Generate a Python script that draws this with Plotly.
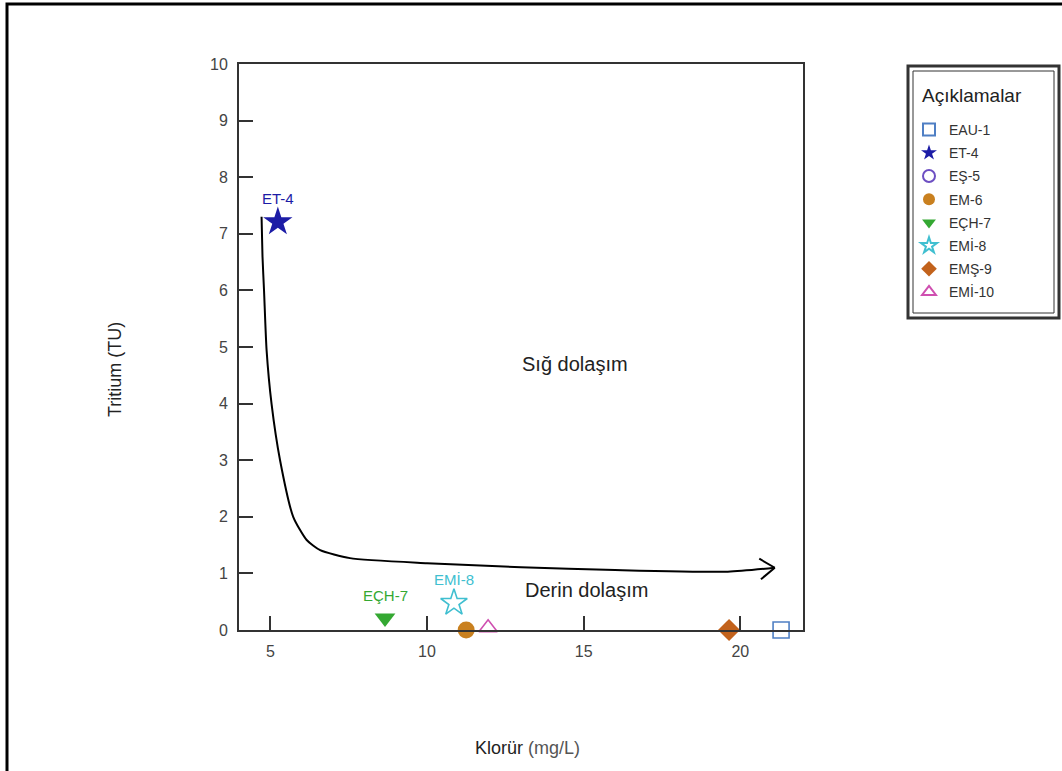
import math
import plotly.graph_objects as go

# Sample points: chloride (mg/L) vs tritium (TU)
names = ["EAU-1", "ET-4", "EŞ-5", "EM-6", "EÇH-7", "EMİ-8", "EMŞ-9", "EMİ-10"]
chloride = [21.3, 5.24, None, 11.25, 8.66, 10.86, 19.64, 11.95]
tritium = [0.0, 7.21, None, 0.0, 0.21, 0.48, 0.0, 0.04]
symbols = ["square-open", "star", "circle-open", "circle", "triangle-down",
           "star-open", "diamond", "triangle-up-open"]
colors = ["#4f7fc4", "#1c1ca6", "#6d4fc2", "#c9801f", "#34a832",
          "#40bfd0", "#c2621c", "#cf4fb0"]
sizes = [16, 22, 12, 17, 18, 20, 17, 16]

# Samples that carry a label above the marker
labelled = ["ET-4", "EÇH-7", "EMİ-8"]

# Hand-drawn flow curve (shallow -> deep circulation)
curve_x = [4.72, 4.75, 4.80, 4.88, 5.04, 5.31, 5.73, 6.16, 6.59, 7.54, 10.0, 13.0, 16.0, 19.6, 21.1]
curve_y = [7.30, 6.60, 5.98, 4.95, 3.99, 3.00, 2.00, 1.59, 1.41, 1.27, 1.18, 1.11, 1.06, 1.03, 1.10]

x_range = [4, 22]
y_range = [0, 10]
x_ticks = [5, 10, 15, 20]
y_ticks = list(range(0, 11))

FONT = "Liberation Sans, Arial, sans-serif"
W, H = 1062, 771
M_L, M_R, M_T, M_B = 239, 259, 64, 141
plot_w = W - M_L - M_R
plot_h = H - M_T - M_B
px_x = plot_w / (x_range[1] - x_range[0])
px_y = plot_h / (y_range[1] - y_range[0])


def paper_x(px):
    return (px - M_L) / plot_w


def paper_y(py):
    return (H - M_B - py) / plot_h


fig = go.Figure()

# Flow curve
fig.add_trace(go.Scatter(
    x=curve_x, y=curve_y, mode="lines",
    line=dict(color="black", width=2, shape="spline", smoothing=0.6),
    showlegend=False, hoverinfo="skip",
))

# Open arrowhead at the end of the curve, built in pixel space
tx, ty = curve_x[-1], curve_y[-1]
sx, sy = curve_x[-2], curve_y[-2]
ang = math.atan2((ty - sy) * px_y, (tx - sx) * px_x)
head_len, head_ang = 18, math.radians(35)
ah_x, ah_y = [], []
for s in (1, -1):
    a = ang + math.pi + s * head_ang
    ah_x += [tx + head_len * math.cos(a) / px_x, tx, None]
    ah_y += [ty + head_len * math.sin(a) / px_y, ty, None]
fig.add_trace(go.Scatter(
    x=ah_x, y=ah_y, mode="lines",
    line=dict(color="black", width=2),
    showlegend=False, hoverinfo="skip",
))

for n, cx, ty_, sym, col, sz in zip(names, chloride, tritium, symbols, colors, sizes):
    fig.add_trace(go.Scatter(
        x=[cx], y=[ty_], mode="markers", name=n, legendgroup=n,
        marker=dict(symbol=sym, color=col, size=sz,
                    line=dict(color=col, width=1.6 if "open" in sym else 0)),
        cliponaxis=False,
    ))
    if n in labelled:
        fig.add_annotation(x=cx, y=ty_, text=n, showarrow=False, yshift=23,
                           font=dict(family=FONT, size=15, color=col))

# Region labels
fig.add_annotation(x=14.72, y=4.7, text="Sığ dolaşım", showarrow=False,
                   font=dict(family=FONT, size=20, color="#222"))
fig.add_annotation(x=15.08, y=0.71, text="Derin dolaşım", showarrow=False,
                   font=dict(family=FONT, size=20, color="#222"))

# Axis titles
fig.add_annotation(xref="paper", yref="paper", x=paper_x(527), y=paper_y(748),
                   text="Klorür <span style='color:#555'>(mg/L)</span>",
                   showarrow=False, xanchor="center", yanchor="middle",
                   font=dict(family=FONT, size=18, color="#222"))
fig.add_annotation(xref="paper", yref="paper", x=paper_x(115), y=paper_y(370),
                   text="Tritium (TU)", textangle=-90, showarrow=False,
                   xanchor="center", yanchor="middle",
                   font=dict(family=FONT, size=18, color="#222"))

# Legend heading
fig.add_annotation(xref="paper", yref="paper", x=paper_x(920), y=paper_y(96),
                   text="Açıklamalar", showarrow=False,
                   xanchor="left", yanchor="middle",
                   font=dict(family=FONT, size=19, color="#222"))

# Page frame and double legend border
fig.add_shape(type="rect", xref="paper", yref="paper",
              x0=paper_x(7), y0=paper_y(900), x1=paper_x(1200), y1=paper_y(4),
              line=dict(color="black", width=3), layer="below")
fig.add_shape(type="rect", xref="paper", yref="paper",
              x0=paper_x(908), y0=paper_y(318), x1=paper_x(1059), y1=paper_y(66),
              line=dict(color="#333", width=3))
fig.add_shape(type="rect", xref="paper", yref="paper",
              x0=paper_x(913), y0=paper_y(313), x1=paper_x(1054), y1=paper_y(71),
              line=dict(color="#333", width=1))

axis_common = dict(
    showline=True, linecolor="#333", linewidth=2, mirror=True,
    ticks="inside", ticklen=14, tickwidth=2, tickcolor="#333",
    showgrid=False, zeroline=False, ticklabelstandoff=6,
    tickfont=dict(family=FONT, size=16, color="#444"),
)
fig.update_xaxes(range=x_range, tickvals=x_ticks, **axis_common)
fig.update_yaxes(range=y_range, tickvals=y_ticks, **axis_common)

fig.update_layout(
    width=W, height=H,
    margin=dict(l=M_L, r=M_R, t=M_T, b=M_B, autoexpand=False),
    paper_bgcolor="white", plot_bgcolor="white",
    legend=dict(
        x=paper_x(909), y=paper_y(114), xanchor="left", yanchor="top",
        bgcolor="rgba(0,0,0,0)", borderwidth=0,
        font=dict(family=FONT, size=14, color="#333"),
        itemwidth=30, itemsizing="constant", tracegroupgap=2,
        maxheight=400,
    ),
)

fig.write_html("out.html")
